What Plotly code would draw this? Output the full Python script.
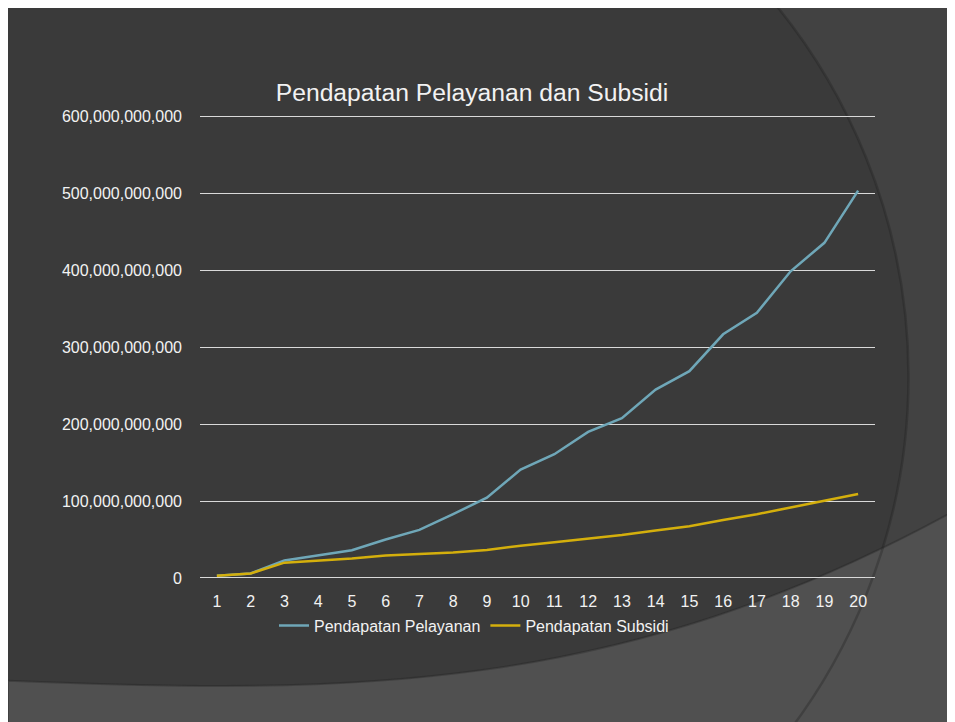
import plotly.graph_objects as go

# ---- data ----
years = list(range(1, 21))
pendapatan_pelayanan = [2.8e9, 5.8e9, 22.8e9, 29.7e9, 36.0e9, 50.0e9, 62.5e9, 83.0e9, 104.5e9, 141.0e9,
                        161.0e9, 190.0e9, 208.0e9, 245.0e9, 269.0e9, 317.0e9, 345.0e9, 399.0e9, 436.0e9, 504.0e9]
pendapatan_subsidi = [2.8e9, 5.8e9, 19.9e9, 22.4e9, 25.4e9, 29.3e9, 31.0e9, 33.0e9, 36.5e9, 42.0e9,
                      46.4e9, 51.0e9, 56.0e9, 61.8e9, 67.3e9, 75.4e9, 83.0e9, 91.7e9, 100.2e9, 109.2e9]
y_ticks = [0, 100e9, 200e9, 300e9, 400e9, 500e9, 600e9]

W, H = 955, 722
OFF = 8  # page body margin


def px(x):
    return (x - OFF) / W


def py(y):
    return 1 - (y - OFF) / H


FONT = "Liberation Sans, Arial, sans-serif"
TXT = "#F2F2F2"

# y pixel scale: 600e9 spans 581.5 -> 112.5 ; pad range a little so edge gridlines are drawn
PAD = 3e9
ppb = (581.5 - 112.5) / 600e9
pad_px = PAD * ppb

fig = go.Figure()
fig.add_trace(go.Scatter(x=years, y=pendapatan_pelayanan, mode="lines", name="Pendapatan Pelayanan",
                         line=dict(color="#6FA7B8", width=2.5)))
fig.add_trace(go.Scatter(x=years, y=pendapatan_subsidi, mode="lines", name="Pendapatan Subsidi",
                         line=dict(color="#D4AF0C", width=2.5)))

# decorative slide background
cx, cy, r = 304.5, 376.6, 604
shapes = [
    dict(type="circle", xref="paper", yref="paper", layer="below",
         x0=px(cx - r), x1=px(cx + r), y0=py(cy + r), y1=py(cy - r),
         fillcolor="#3A3A3A", line=dict(width=0)),
    dict(type="path", xref="paper", yref="paper", layer="below",
         path=(f"M {px(8)},{py(686)} C {px(350)},{py(700)} {px(620)},{py(700)} {px(955)},{py(513)} "
               f"L {px(965)},{py(740)} L {px(8)},{py(740)} Z"),
         fillcolor="#505050", line=dict(color="rgba(30,30,30,0.3)", width=2)),
    dict(type="circle", xref="paper", yref="paper", layer="below",
         x0=px(cx - r), x1=px(cx + r), y0=py(cy + r), y1=py(cy - r),
         fillcolor="rgba(0,0,0,0)", line=dict(color="rgba(25,25,25,0.28)", width=2.5)),
]

fig.update_layout(
    width=W, height=H,
    margin=dict(l=0, r=0, t=0, b=0),
    paper_bgcolor="#424242",
    plot_bgcolor="rgba(0,0,0,0)",
    font=dict(family=FONT, color=TXT, size=16),
    shapes=shapes,
    showlegend=True,
    title=dict(text="Pendapatan Pelayanan dan Subsidi", x=px(472), y=py(88),
               xanchor="center", yanchor="middle", xref="paper", yref="paper",
               font=dict(family=FONT, size=24.7, color=TXT)),
    legend=dict(orientation="h", x=px(474), y=py(630), xanchor="center", yanchor="middle",
                bgcolor="rgba(0,0,0,0)", font=dict(family=FONT, size=16, color=TXT)),
    xaxis=dict(domain=[px(200), px(875)], range=[0.5, 20.5], tickmode="array", tickvals=years,
               showgrid=False, zeroline=False, showline=False, ticks="",
               ticklabelstandoff=int(round(8 + pad_px)), tickfont=dict(family=FONT, size=16, color=TXT)),
    yaxis=dict(domain=[py(581.5 + pad_px), py(112.5 - pad_px)], range=[-PAD, 600e9 + PAD],
               tickmode="array", tickvals=y_ticks,
               tickformat=",.0f", showgrid=True, gridcolor="#D9D9D9", gridwidth=1,
               zeroline=False, showline=False, ticks="",
               ticklabelstandoff=17, tickfont=dict(family=FONT, size=16, color=TXT)),
)

fig.write_html("out.html")
